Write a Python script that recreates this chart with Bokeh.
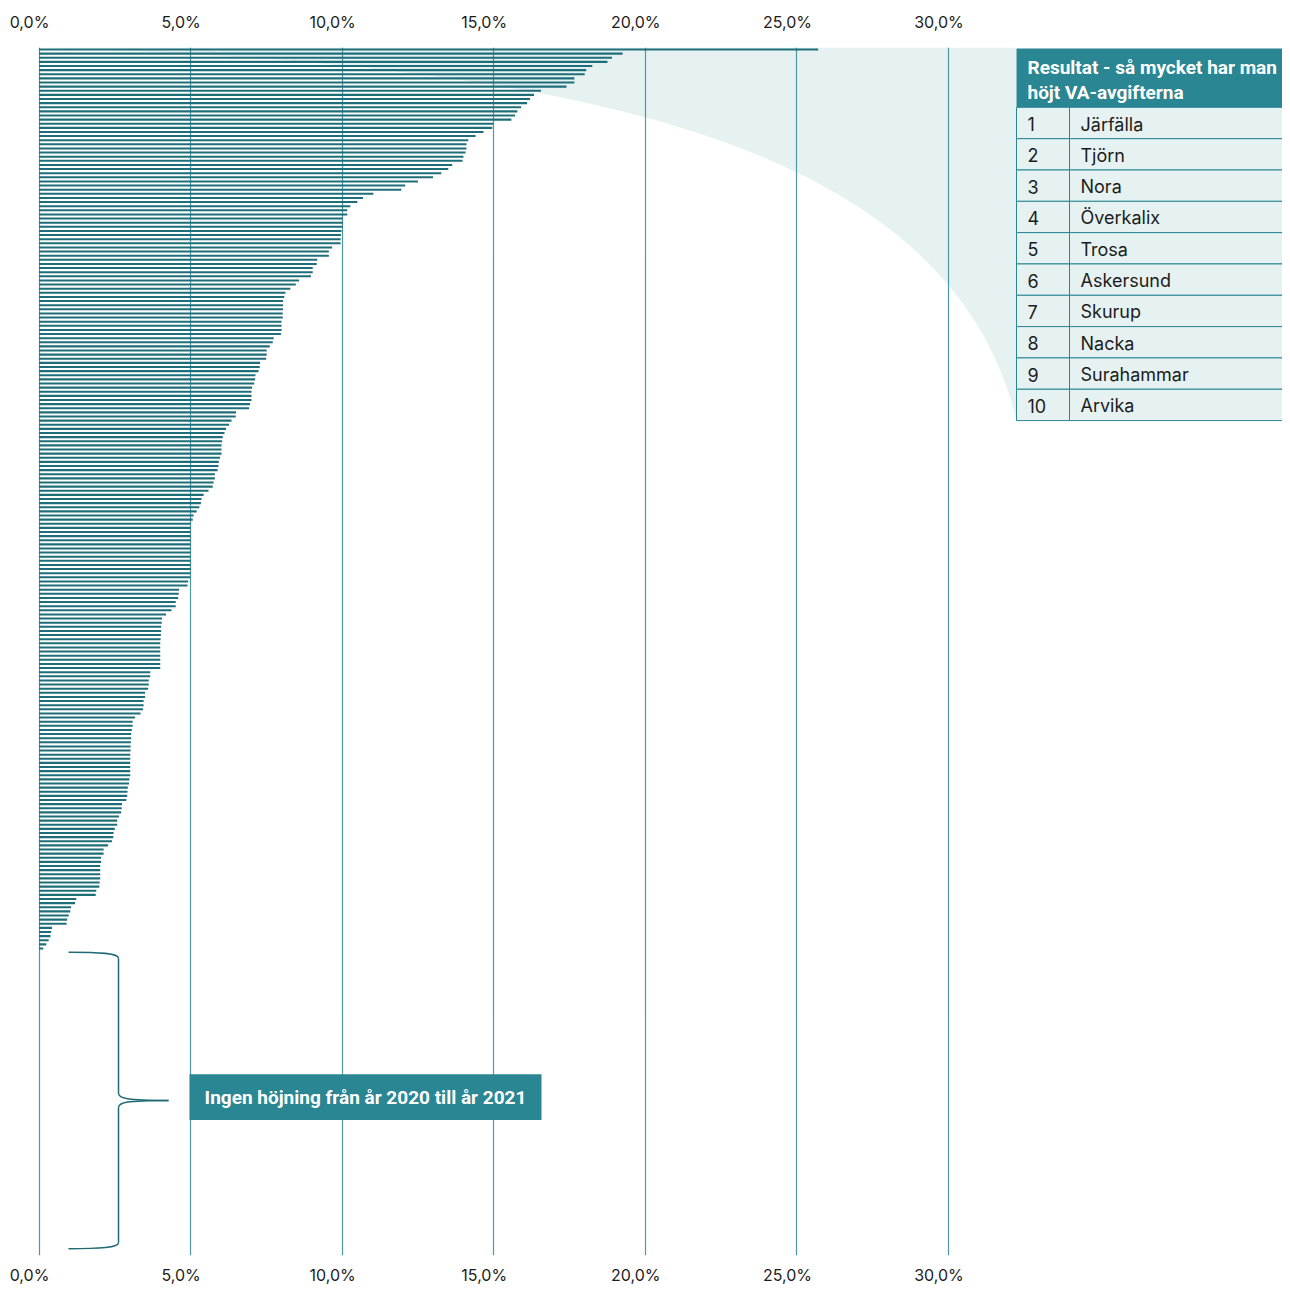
import numpy as np
from bokeh.plotting import figure
from bokeh.models import Range1d, LinearAxis, FixedTicker, Grid, ColumnDataSource
from bokeh.embed import file_html
from bokeh.resources import INLINE
from bokeh.core.properties import value

# ---------------- data ----------------
tick_values = [0, 5, 10, 15, 20, 25, 30]
tick_labels = ["0,0%", "5,0%", "10,0%", "15,0%", "20,0%", "25,0%", "30,0%"]

# increase of VA fees 2020 -> 2021 (%), sorted descending, one entry per municipality
increase_pct = [
    25.7, 19.25, 18.9, 18.75, 18.25, 18.05, 18.0, 17.66, 17.66, 17.4,
    16.56, 16.33, 16.2, 16.1, 15.9, 15.78, 15.7, 15.58, 14.98, 14.95,
    14.66, 14.4, 14.16, 14.1, 14.1, 14.07, 14.0, 13.97, 13.63, 13.5,
    13.27, 13.0, 12.5, 12.08, 11.95,
    11.03, 10.69, 10.5, 10.27, 10.17, 10.17, 10.02, 10.02, 10.02, 9.98,
    9.96, 9.95, 9.95, 9.67, 9.56, 9.56, 9.18, 9.16, 9.03, 9.03,
    8.97, 8.58, 8.47, 8.29, 8.13, 8.09, 8.05, 8.05, 8.05, 8.04,
    8.04, 8.0, 8.0, 8.0, 7.98, 7.74, 7.71, 7.61, 7.51, 7.51,
    7.49, 7.29, 7.28, 7.24, 7.14, 7.13,
    7.1, 7.03, 7.01, 7.01, 7.01, 6.96, 6.93, 6.5, 6.49, 6.35,
    6.27, 6.17, 6.12, 6.06, 6.04, 6.02, 6.02, 6.02, 5.97, 5.93,
    5.92, 5.89, 5.8, 5.8, 5.76, 5.73, 5.59, 5.43, 5.36, 5.34,
    5.29, 5.2, 5.1, 5.07, 5.0, 5.0, 5.0, 5.0, 5.0, 5.0,
    5.0, 5.0, 5.0, 5.0, 5.0, 5.0,
    5.0, 4.99, 4.92, 4.9, 4.62, 4.61, 4.59, 4.51, 4.51, 4.37,
    4.19, 4.06, 4.05, 4.03, 4.03, 4.02, 4.01, 4.0, 4.0, 4.0,
    4.0, 4.0, 4.0, 4.0, 3.67, 3.67, 3.62, 3.62, 3.6, 3.5,
    3.5, 3.45, 3.45, 3.43, 3.35, 3.17, 3.09, 3.09, 3.06, 3.04,
    3.04, 3.03, 3.02, 3.02, 3.01, 3.01,
    3.01, 3.01, 3.01, 3.01, 2.98, 2.97, 2.93, 2.92, 2.91, 2.88,
    2.74, 2.73, 2.71, 2.64, 2.58, 2.58, 2.5, 2.46, 2.45, 2.41,
    2.28, 2.13, 2.13, 2.05, 2.05, 2.02, 2.02, 2.02, 2.02, 2.0,
    1.99, 1.89, 1.87, 1.23, 1.19, 1.06, 1.03, 0.98, 0.93, 0.91,
    0.43, 0.4, 0.38, 0.32, 0.24, 0.14,
]
no_increase_count = 71  # municipalities with 0 % increase

top10_rank = ["1", "2", "3", "4", "5", "6", "7", "8", "9", "10"]
top10_names = ["Järfälla", "Tjörn", "Nora", "Överkalix", "Trosa",
               "Askersund", "Skurup", "Nacka", "Surahammar", "Arvika"]
table_title_lines = ["Resultat - så mycket har man", "höjt VA-avgifterna"]
note_label = "Ingen höjning från år 2020 till år 2021"

# ---------------- style ----------------
BAR = "#1e6e79"
GRID = "#4b99a1"
TEAL = "#2a8692"
LIGHT = "#e6f2f2"
INK = "#1c1c1c"
BRACE = "#1f6a74"
FONT = "Inter"
BOLD_FONT = "Roboto"

values = increase_pct + [0.0] * no_increase_count
n = len(values)
ranks = list(range(n))
first_zero = len(increase_pct)

W, H = 1282, 1287
ORIGIN_X = 38.5      # canvas px of 0 %
PX_PER_PCT = 30.317
ROW0_Y = 49.0        # canvas px of first bar centre
ROW_STEP = 4.134
FRAME_TOP, FRAME_BOTTOM = 47, 1258


def dx(px):
    return (px - ORIGIN_X) / PX_PER_PCT


def dy(py):
    return (py - ROW0_Y) / ROW_STEP


p = figure(width=W, height=H,
           x_range=Range1d(dx(0), dx(W)),
           y_range=Range1d(dy(FRAME_BOTTOM), dy(FRAME_TOP)),
           output_backend="svg", toolbar_location=None,
           x_axis_location=None, y_axis_location=None,
           min_border_left=0, min_border_right=0,
           min_border_top=FRAME_TOP, min_border_bottom=H - FRAME_BOTTOM)
p.outline_line_color = None
p.background_fill_color = "white"
p.border_fill_color = "white"
# drop default grids
p.center = [c for c in p.center if not isinstance(c, Grid)]

# axes (labels slightly left of the grid lines, as in the original)
shift = 9.5 / PX_PER_PCT
p.extra_x_ranges = {"lbl": Range1d(dx(0) + shift, dx(W) + shift)}
for loc, standoff in (("above", 16), ("below", 9)):
    ax = LinearAxis(x_range_name="lbl", ticker=FixedTicker(ticks=tick_values),
                    major_label_overrides={v: l for v, l in zip(tick_values, tick_labels)},
                    axis_line_color=None, major_tick_line_color=None,
                    minor_tick_line_color=None, major_tick_out=0, major_tick_in=0,
                    minor_tick_out=0, minor_tick_in=0,
                    major_label_text_font=FONT, major_label_text_font_size="16px",
                    major_label_text_color=INK, major_label_standoff=standoff)
    p.add_layout(ax, loc)

grid = Grid(dimension=0, ticker=FixedTicker(ticks=tick_values),
            grid_line_color=GRID, grid_line_width=1.2)
p.add_layout(grid)

# ---------------- callout fan ----------------
t = np.linspace(0, 1, 120)
P0 = (dx(20), dy(47))
P1 = (dx(600), dy(60))
P2 = (dx(950), dy(150))
P3 = (dx(1016), dy(421))
bx = (1 - t) ** 3 * P0[0] + 3 * (1 - t) ** 2 * t * P1[0] + 3 * (1 - t) * t ** 2 * P2[0] + t ** 3 * P3[0]
by = (1 - t) ** 3 * P0[1] + 3 * (1 - t) ** 2 * t * P1[1] + 3 * (1 - t) * t ** 2 * P2[1] + t ** 3 * P3[1]
fan_x = [P0[0], P3[0]] + list(bx[::-1])
fan_y = [P0[1], P0[1]] + list(by[::-1])
p.patch(fan_x, fan_y, fill_color=LIGHT, line_color=None, level="image")

# ---------------- bars ----------------
src = ColumnDataSource(dict(rank=ranks, pct=values))
p.hbar(y="rank", left=0, right="pct", height=0.5, source=src,
       fill_color=BAR, line_color=None)

# ---------------- top-10 table ----------------
t_left, t_right, t_col = dx(1016), dx(1300), dx(1069)
head_top, head_bot = dy(48), dy(107)
row_h_px = 31.4
row_tops = [dy(107 + row_h_px * k) for k in range(len(top10_names))]
row_bots = [dy(107 + row_h_px * (k + 1)) for k in range(len(top10_names))]
row_mid = [dy(107 + row_h_px * (k + 0.5) + 1) for k in range(len(top10_names))]

p.quad(left=[t_left], right=[t_right], top=[head_top], bottom=[head_bot],
       fill_color=TEAL, line_color=None)
p.quad(left=[t_left] * len(row_tops), right=[t_right] * len(row_tops),
       top=row_tops, bottom=row_bots, fill_color=LIGHT,
       line_color=TEAL, line_width=1)
p.segment(x0=[t_col], y0=[head_bot], x1=[t_col], y1=[row_bots[-1]],
          line_color=TEAL, line_width=1)

p.text(x=[dx(1027)] * 2, y=[dy(67), dy(92)], text=table_title_lines,
       text_font=value(BOLD_FONT), text_font_style="bold",
       text_font_size="19px", text_color="white",
       text_baseline="middle", text_align="left")
p.text(x=[dx(1027)] * len(top10_rank), y=row_mid, text=top10_rank,
       text_font=value(FONT), text_font_size="18px", text_color=INK,
       text_baseline="middle", text_align="left")
p.text(x=[dx(1080)] * len(top10_names), y=row_mid, text=top10_names,
       text_font=value(FONT), text_font_size="18px", text_color=INK,
       text_baseline="middle", text_align="left")

# ---------------- brace + note ----------------
yt = first_zero - 0.1
yb = n - 1 + 1.8
ym = (yt + yb) / 2
bx0, bx1, bx2, bxc, bxm = dx(68), dx(118), dx(168), dx(100), dx(126)
p.bezier(x0=[bx0, bx1, bx2, bx1], y0=[yt, ym - 1.75, ym, yb - 1.45],
         x1=[bx1, bx2, bx1, bx0], y1=[yt + 1.45, ym, ym + 1.75, yb],
         cx0=[bxc, bx1, bxm, bx1], cy0=[yt, ym - 0.5, ym, yb - 0.25],
         cx1=[bx1, bxm, bx1, bxc], cy1=[yt + 0.25, ym, ym + 0.5, yb],
         line_color=BRACE, line_width=1.5)
p.segment(x0=[bx1, bx1], y0=[yt + 1.45, ym + 1.75],
          x1=[bx1, bx1], y1=[ym - 1.75, yb - 1.45],
          line_color=BRACE, line_width=1.5)

box_c = ym - 0.8
box_half = 23 / ROW_STEP
p.quad(left=[dx(189)], right=[dx(541)], top=[box_c - box_half], bottom=[box_c + box_half],
       fill_color=TEAL, line_color=None)
p.text(x=[(dx(189) + dx(541)) / 2], y=[box_c], text=[note_label],
       text_font=value(BOLD_FONT), text_font_style="bold", text_font_size="19px",
       text_color="white", text_baseline="middle", text_align="center")

open("out.html", "w").write(file_html(p, INLINE))
